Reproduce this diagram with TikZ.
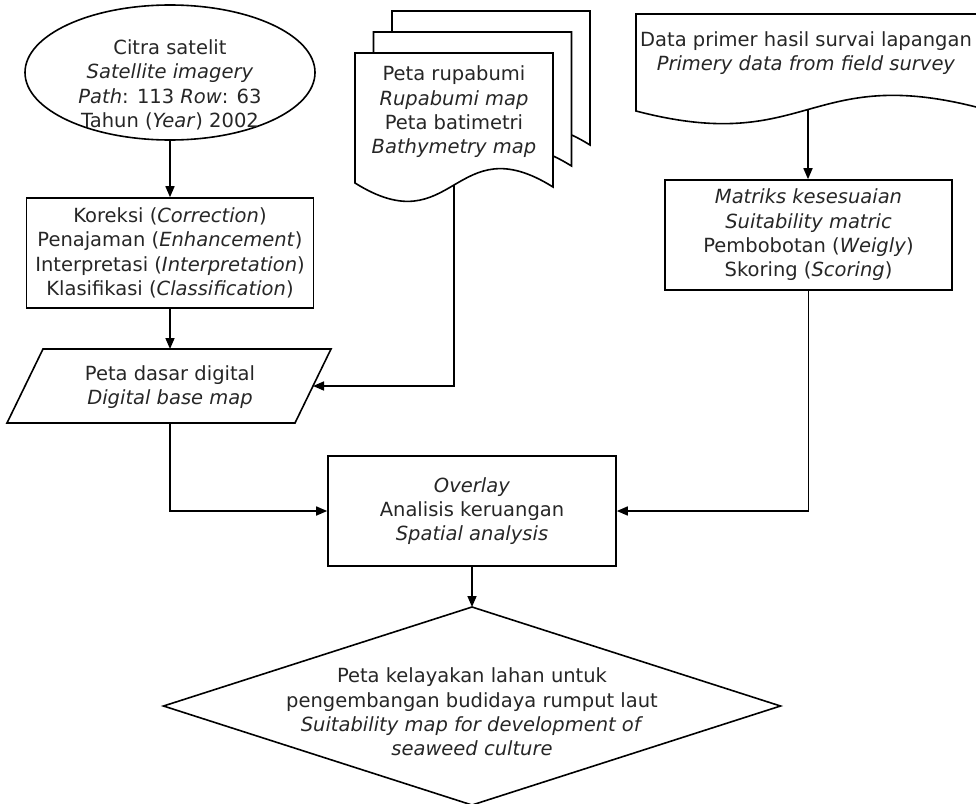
\documentclass[tikz,border=0pt]{standalone}
\usepackage{fontspec}
\setmainfont{DejaVu Sans}
\usetikzlibrary{arrows.meta,shapes.geometric}
\begin{document}
\begin{tikzpicture}[x=1pt,y=-1pt,line width=1.6pt,
  >={Triangle[length=11pt,width=9pt]},
  txt/.style={align=center,font=\fontsize{19.5}{24.3}\selectfont,inner sep=0pt,text=black!85},
  boxnode/.style={draw,rectangle,txt,minimum width=287pt,minimum height=110pt},
  docshape/.style={draw,fill=white}]
\useasboundingbox (0,0) rectangle (976,803);
\clip (0,0) rectangle (976,803);

% satellite ellipse
\node[draw,ellipse,minimum width=290pt,minimum height=135pt,inner sep=0pt] (sat) at (170,72.5) {};
\node[txt] (sattxt) at (170,85) {Citra satelit\\ \textit{Satellite imagery}\\ \textit{Path}: 113 \textit{Row}: 63\\ Tahun (\textit{Year}) 2002};

% processing box
\node[boxnode] (corr) at (170,253) {Koreksi (\textit{Correction})\\ Penajaman (\textit{Enhancement})\\ Interpretasi (\textit{Interpretation})\\ Klasifikasi (\textit{Classification})};

% parallelogram
\draw (43,349) -- (331,349) -- (295,423) -- (7,423) -- cycle;
\coordinate (pddN) at (170,349);
\coordinate (pddS) at (170,423);
\coordinate (pddE) at (313,386);
\node[txt] (pdd) at (170,387) {Peta dasar digital\\ \textit{Digital base map}};

% document stack
\foreach \dx/\dy in {37/-42,18.5/-21}{
  \begin{scope}[shift={(\dx,\dy)}]
    \draw[docshape] (355,183) -- (355,53) -- (553,53) -- (553,187)
      .. controls (454,125) and (454,245) .. (355,183) -- cycle;
  \end{scope}
}
\draw[docshape] (355,183) -- (355,53) -- (553,53) -- (553,187)
  .. controls (454,125) and (454,245) .. coordinate[pos=0.5] (mapsS) (355,183) -- cycle;
\node[txt] (maps) at (454,112) {Peta rupabumi\\ \textit{Rupabumi map}\\ Peta batimetri\\ \textit{Bathymetry map}};

% field data document
\draw (980,108) .. controls (808,63) and (808,156) .. coordinate[pos=0.5] (dprimS) (636,111)
  -- (636,14) -- (980,14);
\node[txt] (dprim) at (806,53) {Data primer hasil survai lapangan\\ \textit{Primery data from field survey}};

% matrix box
\node[boxnode] (mat) at (808.5,235) {\textit{Matriks kesesuaian}\\ \textit{Suitability matric}\\ Pembobotan (\textit{Weigly})\\ Skoring (\textit{Scoring})};

% overlay box
\node[boxnode,minimum width=288pt] (ovl) at (472,511) {\textit{Overlay}\\ Analisis keruangan\\ \textit{Spatial analysis}};

% diamond
\draw (472,607) -- (780.5,706) -- (472,805) -- (163.5,706) -- cycle;
\coordinate (diaN) at (472,607);
\node[txt] (dia) at (472,712) {Peta kelayakan lahan untuk\\ pengembangan budidaya rumput laut\\ \textit{Suitability map for development of}\\ \textit{seaweed culture}};

% connectors
\draw[->] (sat.south) -- (sat.south |- corr.north);
\draw[->] (corr.south) -- (pddN);
\draw[->] (mapsS) |- (pddE);
\draw[->] (pddS) |- (ovl.west);
\draw[->] (dprimS) -- (dprimS |- mat.north);
\draw[->] (mat.south) |- (ovl.east);
\draw[->] (ovl.south) -- (diaN);
\end{tikzpicture}
\end{document}
